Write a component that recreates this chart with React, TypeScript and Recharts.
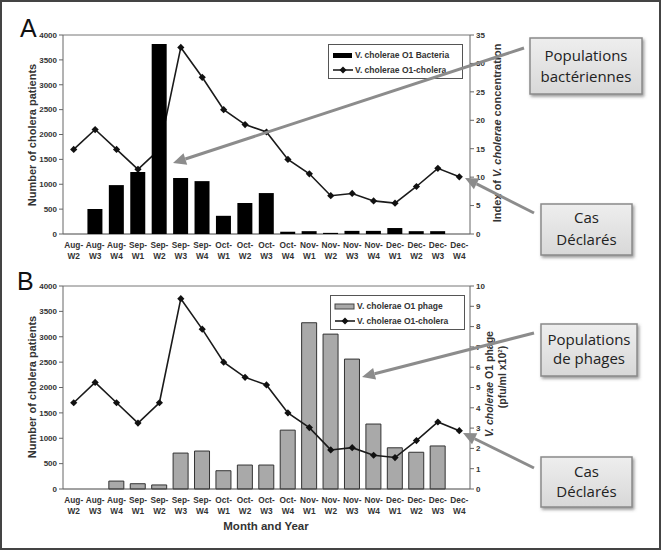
import React from "react";
import { ComposedChart, Bar, Line, XAxis, YAxis, ReferenceLine } from "recharts";

const categories = ["Aug-W2","Aug-W3","Aug-W4","Sep-W1","Sep-W2","Sep-W3","Sep-W4","Oct-W1","Oct-W2","Oct-W3","Oct-W4","Nov-W1","Nov-W2","Nov-W3","Nov-W4","Dec-W1","Dec-W2","Dec-W3","Dec-W4"];
const choleraPatients = [1700,2100,1700,1300,1700,3750,3150,2500,2200,2050,1500,1210,770,815,665,620,955,1320,1150];
const bacteriaIndex = [0,4.4,8.6,10.9,33.4,9.85,9.3,3.2,5.45,7.2,0.4,0.5,0.2,0.55,0.55,1.05,0.5,0.5,0];
const phageConc = [0,0,0.39,0.26,0.2,1.77,1.87,0.9,1.18,1.18,2.9,8.19,7.63,6.4,3.2,2.03,1.81,2.12,0];
const leftTicks = [0,500,1000,1500,2000,2500,3000,3500,4000];
const rightTicksA = [0,5,10,15,20,25,30,35];
const rightTicksB = [0,1,2,3,4,5,6,7,8,9,10];

const dataA = categories.map((c, i) => ({ cat: c, cholera: choleraPatients[i], bact: bacteriaIndex[i] }));
const dataB = categories.map((c, i) => ({ cat: c, cholera: choleraPatients[i], phage: phageConc[i] }));

const FONT = "'Liberation Sans', Arial, sans-serif";
const tickStyle = { fontSize: 8, fontWeight: 700, fill: "#333", fontFamily: FONT };

const XTick = (props: any) => {
  const { x, y, payload } = props;
  const parts = String(payload.value).split("-");
  return (
    <g transform={`translate(${x},${y})`}>
      <text textAnchor="middle" {...tickStyle} fontSize={8.3}>
        <tspan x={0} dy={6}>{parts[0]}-</tspan>
        <tspan x={0} dy={11}>{parts[1]}</tspan>
      </text>
    </g>
  );
};

const Diamond = (props: any) => {
  const { cx, cy } = props;
  if (cx == null || cy == null) return <g />;
  const r = 3.6;
  return <polygon points={`${cx},${cy - r} ${cx + r},${cy} ${cx},${cy + r} ${cx - r},${cy}`} fill="#111" />;
};

const LegendBox = ({ x, y, barLabel, barFill, barStroke }: any) => (
  <g transform={`translate(${x},${y})`}>
    <rect x={0.5} y={0.5} width={134} height={34} fill="#fff" stroke="#555" strokeWidth={1} />
    <rect x={5} y={9} width={19} height={5} fill={barFill} stroke={barStroke || "none"} strokeWidth={1} />
    <text x={27} y={14} {...tickStyle} fontSize={8.5}>{barLabel}</text>
    <line x1={5} y1={26} x2={25} y2={26} stroke="#111" strokeWidth={1.5} />
    <polygon points="15,22.5 18.5,26 15,29.5 11.5,26" fill="#111" />
    <text x={27} y={29} {...tickStyle} fontSize={8.5}>V. cholerae O1-cholera</text>
  </g>
);

const Arrow = ({ x1, y1, x2, y2 }: any) => {
  const ang = Math.atan2(y2 - y1, x2 - x1);
  const L = 13, Wd = 6;
  const bx = x2 - L * Math.cos(ang), by = y2 - L * Math.sin(ang);
  const px = -Math.sin(ang) * Wd, py = Math.cos(ang) * Wd;
  return (
    <g>
      <line x1={x1} y1={y1} x2={bx} y2={by} stroke="#8c8c8c" strokeWidth={3} />
      <polygon points={`${x2},${y2} ${bx + px},${by + py} ${bx - px},${by - py}`} fill="#8c8c8c" />
    </g>
  );
};

const Callout = ({ x, y, w, h, lines, ys }: any) => (
  <g>
    <rect x={x} y={y} width={w} height={h} fill="url(#boxGrad)" stroke="#8a8a8a" strokeWidth={1.5} filter="url(#shadow)" />
    {lines.map((t: string, i: number) => (
      <text key={i} x={x + w / 2} y={ys[i]} textAnchor="middle" fontSize={15} fill="#222" fontFamily="'Open Sans', sans-serif">{t}</text>
    ))}
  </g>
);

export default function App() {
  return (
    <div style={{ position: "absolute", left: 0, top: 0, width: 662, height: 551, background: "#fff", fontFamily: FONT }}>
      <div style={{ position: "absolute", left: 0, top: 0 }}>
        <ComposedChart width={662} height={270} data={dataA} margin={{ top: 35, right: 142, left: 23, bottom: 0 }}>
          <XAxis dataKey="cat" height={36} tick={<XTick />} tickLine={false} axisLine={{ stroke: "#444" }} interval={0} />
          <YAxis yAxisId="left" domain={[0, 4000]} ticks={leftTicks} width={40} tickSize={4} tick={tickStyle} axisLine={{ stroke: "#666" }} tickLine={{ stroke: "#666" }} interval={0} />
          <YAxis yAxisId="right" orientation="right" domain={[0, 35]} ticks={rightTicksA} width={50} tickSize={4} tick={tickStyle} axisLine={{ stroke: "#666" }} tickLine={{ stroke: "#666" }} interval={0} />
          <ReferenceLine yAxisId="left" y={4000} stroke="#777" />
          <Line yAxisId="left" dataKey="cholera" stroke="#1a1a1a" strokeWidth={1.6} dot={<Diamond />} activeDot={false} isAnimationActive={false} />
          <Bar yAxisId="right" dataKey="bact" fill="#000" barSize={15} isAnimationActive={false} {...({ zIndex: 700 } as any)} />
        </ComposedChart>
      </div>
      <div style={{ position: "absolute", left: 0, top: 270 }}>
        <ComposedChart width={662} height={281} data={dataB} margin={{ top: 16, right: 142, left: 23, bottom: 0 }}>
          <XAxis dataKey="cat" height={62} tick={<XTick />} tickLine={false} axisLine={{ stroke: "#444" }} interval={0} />
          <YAxis yAxisId="left" domain={[0, 4000]} ticks={leftTicks} width={40} tickSize={4} tick={tickStyle} axisLine={{ stroke: "#666" }} tickLine={{ stroke: "#666" }} interval={0} />
          <YAxis yAxisId="right" orientation="right" domain={[0, 10]} ticks={rightTicksB} width={50} tickSize={4} tick={tickStyle} axisLine={{ stroke: "#666" }} tickLine={{ stroke: "#666" }} interval={0} />
          <ReferenceLine yAxisId="left" y={4000} stroke="#777" />
          <Bar yAxisId="right" dataKey="phage" fill="#a9a9a9" stroke="#333" strokeWidth={1} barSize={15} isAnimationActive={false} />
          <Line yAxisId="left" dataKey="cholera" stroke="#1a1a1a" strokeWidth={1.6} dot={<Diamond />} activeDot={false} isAnimationActive={false} />
        </ComposedChart>
      </div>
      <svg width={662} height={551} style={{ position: "absolute", left: 0, top: 0, pointerEvents: "none" }}>
        <defs>
          <linearGradient id="boxGrad" x1="0" y1="0" x2="0" y2="1">
            <stop offset="0" stopColor="#eeeeee" />
            <stop offset="1" stopColor="#d8d8d8" />
          </linearGradient>
          <filter id="shadow" x="-20%" y="-20%" width="140%" height="150%">
            <feDropShadow dx={1.5} dy={2} stdDeviation={1.5} floodColor="#555" floodOpacity={0.6} />
          </filter>
        </defs>
        <rect x={1} y={1} width={659} height={548} fill="none" stroke="#444" strokeWidth={2} />
        <LegendBox x={328} y={44} barLabel="V. cholerae O1 Bacteria" barFill="#000" />
        <LegendBox x={330} y={295} barLabel="V. cholerae O1 phage" barFill="#a9a9a9" barStroke="#444" />
        <text x={20} y={37} fontSize={25} fill="#111" fontFamily={FONT}>A</text>
        <text x={17} y={290} fontSize={25} fill="#111" fontFamily={FONT}>B</text>
        <text transform="translate(36,135) rotate(-90)" textAnchor="middle" fontSize={11} fontWeight={700} fill="#333" fontFamily={FONT}>Number of cholera patients</text>
        <text transform="translate(501,133) rotate(-90)" textAnchor="middle" fontSize={11} fontWeight={700} fill="#333" fontFamily={FONT}>Index of <tspan fontStyle="italic">V. cholerae</tspan> concentration</text>
        <text transform="translate(36,387) rotate(-90)" textAnchor="middle" fontSize={11} fontWeight={700} fill="#333" fontFamily={FONT}>Number of cholera patients</text>
        <text transform="translate(493,384) rotate(-90)" textAnchor="middle" fontSize={10.5} fontWeight={700} fill="#333" fontFamily={FONT}><tspan fontStyle="italic">V. cholerae</tspan> O1  phage</text>
        <text transform="translate(506,377) rotate(-90)" textAnchor="middle" fontSize={10.5} fontWeight={700} fill="#333" fontFamily={FONT}>(pfu/ml x10<tspan fontSize={6} dy={-4}>2</tspan><tspan dy={4}>)</tspan></text>
        <text x={266} y={530} textAnchor="middle" fontSize={11.5} fontWeight={700} fill="#333" fontFamily={FONT}>Month and Year</text>
        <Arrow x1={524} y1={48} x2={173} y2={163} />
        <Arrow x1={534} y1={213} x2={465} y2={178} />
        <Arrow x1={534} y1={333} x2={362} y2={377} />
        <Arrow x1={534} y1={468} x2={463} y2={433} />
        <Callout x={530} y={38} w={112} h={56} lines={["Populations", "bactériennes"]} ys={[61, 82]} />
        <Callout x={541} y={204} w={91} h={51} lines={["Cas", "Déclarés"]} ys={[223, 245]} />
        <Callout x={541} y={324} w={96} h={52} lines={["Populations", "de phages"]} ys={[345, 364]} />
        <Callout x={541} y={457} w={91} h={50} lines={["Cas", "Déclarés"]} ys={[477, 497]} />
      </svg>
    </div>
  );
}
